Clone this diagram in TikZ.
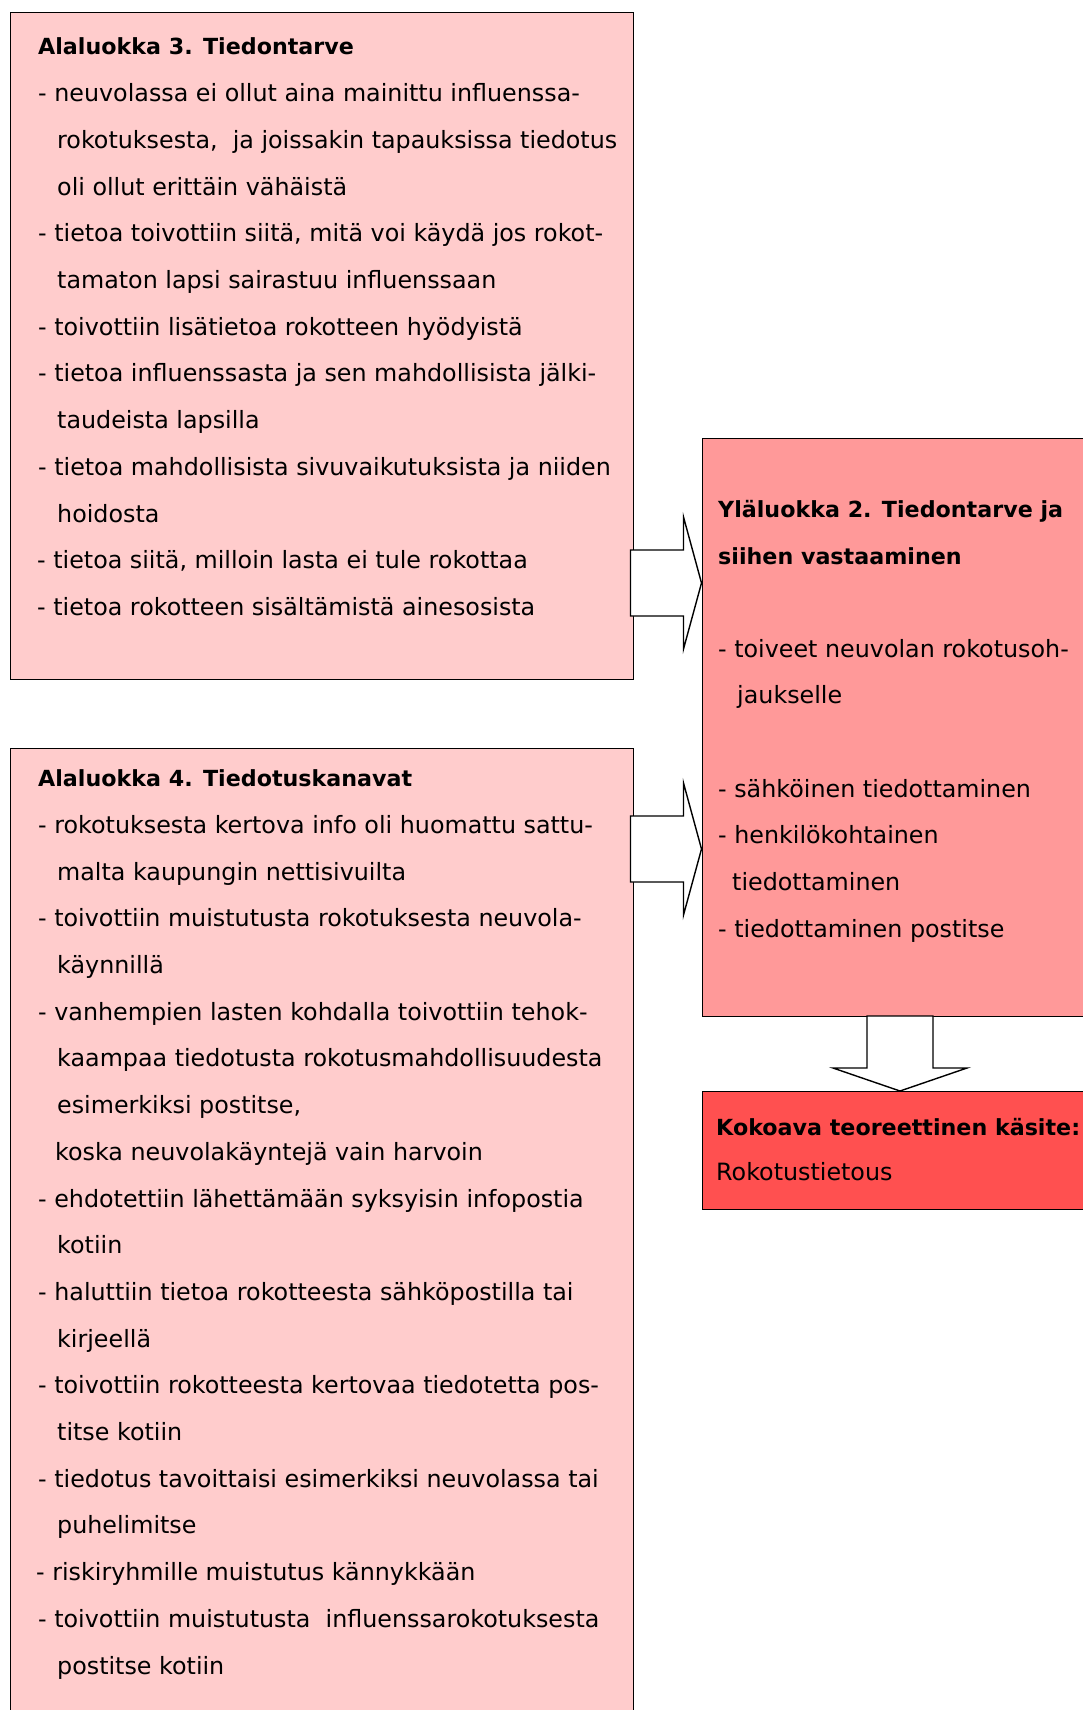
\documentclass[tikz,border=0pt]{standalone}
\usepackage{fontspec}
\setmainfont{DejaVu Sans}
\usepackage{tikz}
\usetikzlibrary{positioning,calc}
\definecolor{alapink}{HTML}{FFCCCC}
\definecolor{ylapink}{HTML}{FF9999}
\definecolor{kokored}{HTML}{FF5050}
\tikzset{
  box/.style={draw=black, line width=1.1pt, anchor=north west, inner sep=0pt},
  blockarrow/.style={draw=black, fill=white, line width=1.4pt, line join=miter},
  line/.style={anchor=base west, inner sep=0pt, font=\fontsize{23.8}{46.7}\selectfont},
  head/.style={line, font=\fontsize{22.2}{46.7}\selectfont\bfseries}
}

\begin{document}
\begin{tikzpicture}[x=1pt,y=-1pt]
      \useasboundingbox (0,0) rectangle (1082,1710);
      % boxes
      \node[box, fill=alapink, minimum width=623, minimum height=667] (a3) at (9.5,12) {};
      \node[box, fill=alapink, minimum width=623, minimum height=1000] (a4) at (9.5,748) {};
      \node[box, fill=ylapink, minimum width=420, minimum height=578] (y2) at (701.5,438) {};
      \node[box, fill=kokored, minimum width=420, minimum height=118] (kok) at (701.5,1091) {};

      % arrows
      \coordinate (t1) at (y2.west |- 0,583);
      \coordinate (t2) at (y2.west |- 0,849);
      \coordinate (t3) at (900,0 |- kok.north);
      \draw[blockarrow] (t1) -- ++(-18,-66) -- ++(0,33) -- ++(-53,0) -- ++(0,66) -- ++(53,0) -- ++(0,33) -- cycle;
      \draw[blockarrow] (t2) -- ++(-18,-66) -- ++(0,33) -- ++(-53,0) -- ++(0,66) -- ++(53,0) -- ++(0,33) -- cycle;
      \draw[blockarrow] (t3) -- ++(-67,-23) -- ++(34,0) -- ++(0,-52) -- ++(66,0) -- ++(0,52) -- ++(34,0) -- cycle;

      % Alaluokka 3
      \node[head] (a3-0) at (38,55) {Alaluokka 3. Tiedontarve};
      \foreach \r/\x/\t in {
        1/38/{- neuvolassa ei ollut aina mainittu influenssa-},
        2/57/{rokotuksesta,\ \ ja joissakin tapauksissa tiedotus},
        3/57/{oli ollut erittäin vähäistä},
        4/38/{- tietoa toivottiin siitä, mitä voi käydä jos rokot-},
        5/57/{tamaton lapsi sairastuu influenssaan},
        6/38/{- toivottiin lisätietoa rokotteen hyödyistä},
        7/38/{- tietoa influenssasta ja sen mahdollisista jälki-},
        8/57/{taudeista lapsilla},
        9/38/{- tietoa mahdollisista sivuvaikutuksista ja niiden},
        10/57/{hoidosta},
        11/37/{- tietoa siitä, milloin lasta ei tule rokottaa},
        12/37/{- tietoa rokotteen sisältämistä ainesosista}}
        \node[line] (a3-\r) at (\x,55+46.7*\r) {\t};

      % Alaluokka 4
      \node[head] (a4-0) at (38,786.7) {Alaluokka 4. Tiedotuskanavat};
      \foreach \r/\x/\t in {
        1/38/{- rokotuksesta kertova info oli huomattu sattu-},
        2/57/{malta kaupungin nettisivuilta},
        3/38/{- toivottiin muistutusta rokotuksesta neuvola-},
        4/57/{käynnillä},
        5/38/{- vanhempien lasten kohdalla toivottiin tehok-},
        6/57/{kaampaa tiedotusta rokotusmahdollisuudesta},
        7/57/{esimerkiksi postitse,},
        8/55/{koska neuvolakäyntejä vain harvoin},
        9/38/{- ehdotettiin lähettämään syksyisin infopostia},
        10/57/{kotiin},
        11/38/{- haluttiin tietoa rokotteesta sähköpostilla tai},
        12/57/{kirjeellä},
        13/38/{- toivottiin rokotteesta kertovaa tiedotetta pos-},
        14/57/{titse kotiin},
        15/38/{- tiedotus tavoittaisi esimerkiksi neuvolassa tai},
        16/57/{puhelimitse},
        17/36/{- riskiryhmille muistutus kännykkään},
        18/38/{- toivottiin muistutusta\ \ influenssarokotuksesta},
        19/57/{postitse kotiin}}
        \node[line] (a4-\r) at (\x,786.7+46.7*\r) {\t};

      % Ylaluokka 2
      \node[head] (y2-0) at (718,517) {Yläluokka 2. Tiedontarve ja};
      \node[head] (y2-1) at (718,564) {siihen vastaaminen};
      \foreach \r/\x/\t in {
        3/718/{- toiveet neuvolan rokotusoh-},
        4/737/{jaukselle},
        6/718/{- sähköinen tiedottaminen},
        7/718/{- henkilökohtainen},
        8/732/{tiedottaminen},
        9/718/{- tiedottaminen postitse}}
        \node[line] (y2-\r) at (\x,517+46.7*\r) {\t};

      % Kokoava kasite
      \node[head] (kok-0) at (716,1135) {Kokoava teoreettinen käsite:};
      \node[line] (kok-1) at (716,1180) {Rokotustietous};
\end{tikzpicture}
\end{document}
